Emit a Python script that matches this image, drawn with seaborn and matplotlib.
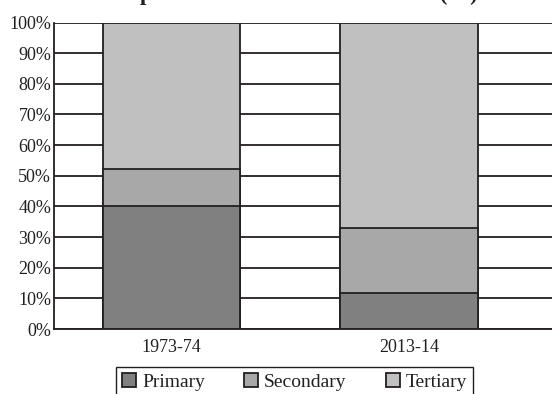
import numpy as np
import pandas as pd
import matplotlib
matplotlib.use("Agg")
import matplotlib.pyplot as plt
import seaborn as sns

years = ["1973-74", "2013-14"]
primary = [40.0, 11.8]
secondary = [12.3, 21.2]
tertiary = [47.7, 67.0]
sectors = ["Primary", "Secondary", "Tertiary"]
colors = ["#808080", "#a8a8a8", "#c0c0c0"]
title = "Composition of Gross Value Added (%)"

sns.set_theme(style="white")
plt.rcParams["font.family"] = ["Liberation Serif", "DejaVu Serif"]
ink = "#231f20"

df = pd.DataFrame({"year": years, "Primary": primary,
                   "Secondary": secondary, "Tertiary": tertiary})
df["c1"] = df["Primary"]
df["c2"] = df["c1"] + df["Secondary"]
df["c3"] = df["c2"] + df["Tertiary"]

fig = plt.figure(figsize=(5.52, 3.94), dpi=100)
ax = fig.add_axes([54 / 552, 1 - 329 / 394, 1 - 54 / 552, (329 - 22.5) / 394])

# horizontal grid behind the bars
ax.set_axisbelow(True)
ax.yaxis.grid(True, color=ink, linewidth=1.3)

# stacked bars drawn back to front
for col, c in zip(["c3", "c2", "c1"], colors[::-1]):
    sns.barplot(data=df, x="year", y=col, color=c, width=0.58,
                edgecolor=ink, linewidth=1.3, saturation=1, ax=ax)

ax.set_xlim(-0.495, 1.602)
ax.set_ylim(0, 100)
ax.set_yticks(np.arange(0, 101, 10))
ax.set_yticklabels([f"{v}%" for v in range(0, 101, 10)])
ax.set_xlabel("")
ax.set_ylabel("")
ax.tick_params(axis="both", length=0, labelsize=13, colors=ink)
ax.tick_params(axis="y", pad=2)
ax.tick_params(axis="x", pad=7)
for s in ["top", "right"]:
    ax.spines[s].set_visible(False)
for s in ["left", "bottom"]:
    ax.spines[s].set_color(ink)
    ax.spines[s].set_linewidth(1.3)

handles = [plt.Rectangle((0, 0), 1, 1, facecolor=c, edgecolor=ink, linewidth=1.3)
           for c in colors]
leg = fig.legend(handles, sectors, loc="upper center", ncol=3,
                 bbox_to_anchor=(294.5 / 552, 1 - 367 / 394),
                 borderaxespad=0, fontsize=14, frameon=True, fancybox=False,
                 framealpha=1, edgecolor=ink, handlelength=0.75,
                 handleheight=0.75, handletextpad=0.3, columnspacing=2.0,
                 borderpad=0.3)
leg.get_frame().set_linewidth(1.0)
for t in leg.get_texts():
    t.set_color(ink)

# title sits mostly above the top edge, as in the cropped original
fig.text(285 / 552, 1.0, title, ha="center", va="baseline",
         fontsize=16.5, fontweight="bold", color=ink)

fig.savefig("out.png", dpi=100)
